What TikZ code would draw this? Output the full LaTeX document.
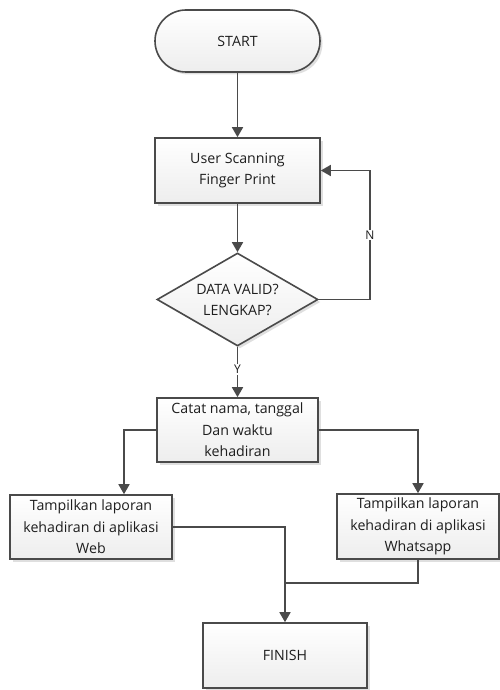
\documentclass[tikz,border=0pt]{standalone}
\usepackage{fontspec}
\setmainfont{Open Sans}
\usetikzlibrary{arrows.meta,shadows,shapes.geometric,calc}
\definecolor{ln}{HTML}{4A4A4A}
\definecolor{tx}{HTML}{1E1E1E}
\begin{document}
\begin{tikzpicture}[x=1pt,y=-1pt,
  every node/.style={font=\fontsize{14.2}{21.5}\selectfont, text=tx, align=center},
  boxst/.style={draw=ln, line width=1.6pt, top color=white, bottom color=gray!14,
    drop shadow={opacity=0.25, shadow xshift=2.5pt, shadow yshift=-2.5pt},
    minimum width=#1, inner sep=0pt},
  conn/.style={draw=ln, line width=1.6pt},
  arr/.style={conn, -{Triangle[length=10pt,width=11pt]}},
  lbl/.style={fill=white, inner sep=1pt, font=\fontsize{12}{13}\selectfont}
]
\useasboundingbox (0,0) rectangle (500,690);
\node[boxst=165pt, minimum height=62pt, rounded corners=31pt] (start) at (237.5,41) {START};
\node[boxst=165pt, minimum height=65pt] (b1) at (237.5,170.5) {User Scanning\\Finger Print};
\node[boxst=161pt, diamond, minimum height=93pt, aspect=1.73] (d) at (237.5,299.5) {};
\node (dtext) at (237.5,300) {DATA VALID?\\LENGKAP?};
\node[boxst=161pt, minimum height=64pt] (b2) at (237.5,430) {Catat nama, tanggal\\Dan waktu\\kehadiran};
\node[boxst=162pt, minimum height=64pt] (b3) at (91,527) {Tampilkan laporan\\kehadiran di aplikasi\\Web};
\node[boxst=162pt, minimum height=65pt] (b4) at (418,526.5) {Tampilkan laporan\\kehadiran di aplikasi\\Whatsapp};
\node[boxst=164pt, minimum height=65pt] (fin) at (285,655.5) {FINISH};

\draw[arr] (start.south) -- (b1.north);
\draw[arr] (b1.south) -- (d.north);
\coordinate (nc) at (370,235);
\draw[arr] (d.east) -| (nc) |- (b1.east);
\node[lbl] (nlbl) at (nc) {N};
\draw[arr] (d.south) -- (b2.north) node[lbl, pos=0.45] (ylbl) {Y};
\draw[arr] (b2.west) -| ([xshift=33pt]b3.north);
\draw[arr] (b2.east) -| (b4.north);
\draw[arr] (b3.east) -| (fin.north);
\coordinate (mj) at (285,583);
\draw[conn] (b4.south) |- (mj);
\end{tikzpicture}
\end{document}
